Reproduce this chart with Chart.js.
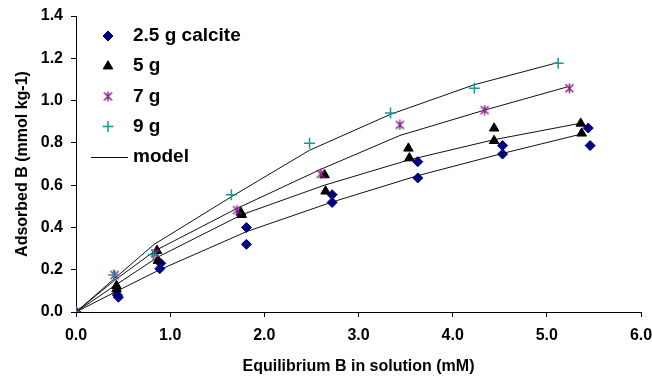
<!DOCTYPE html>
<html>
<head>
<meta charset="utf-8">
<script src="https://cdn.jsdelivr.net/npm/chart.js@4"></script>
<style>
  html, body { margin: 0; padding: 0; background: #fff; }
  #wrap { width: 652px; height: 378px; position: relative; }
</style>
</head>
<body>
<div id="wrap"><canvas id="chart" width="652" height="378"></canvas></div>
<script>
const calcite25X = [0, 0.44, 0.45, 0.89, 0.90, 1.81, 1.81, 2.72, 2.72, 3.63, 3.63, 4.53, 4.53, 5.44, 5.46];
const calcite25Y = [0, 0.08, 0.07, 0.205, 0.23, 0.40, 0.32, 0.555, 0.518, 0.711, 0.634, 0.787, 0.747, 0.870, 0.787];

const calcite5X = [0, 0.43, 0.43, 0.86, 0.87, 1.75, 1.76, 2.64, 2.65, 3.53, 3.54, 4.44, 4.44, 5.36, 5.37];
const calcite5Y = [0, 0.124, 0.108, 0.29, 0.243, 0.471, 0.46, 0.648, 0.571, 0.774, 0.728, 0.869, 0.810, 0.892, 0.845];

const calcite7X = [0, 0.41, 0.84, 1.71, 2.60, 3.44, 4.34, 5.24];
const calcite7Y = [0, 0.175, 0.277, 0.482, 0.653, 0.885, 0.955, 1.058];

const calcite9X = [0, 0.40, 0.82, 1.65, 2.48, 3.34, 4.23, 5.12];
const calcite9Y = [0, 0.175, 0.271, 0.555, 0.798, 0.941, 1.058, 1.176];

// model curves
const model25X = [0, 0.44, 0.89, 1.81, 2.72, 3.63, 4.53, 5.37];
const model25Y = [0, 0.10, 0.20, 0.38, 0.52, 0.645, 0.75, 0.842];
const model5X = [0, 0.43, 0.87, 1.76, 2.64, 3.54, 4.44, 5.36];
const model5Y = [0, 0.13, 0.26, 0.46, 0.60, 0.72, 0.815, 0.893];
const model7X = [0, 0.41, 0.84, 1.71, 2.60, 3.44, 4.34, 5.22];
const model7Y = [0, 0.15, 0.29, 0.49, 0.675, 0.835, 0.955, 1.065];
const model9X = [0, 0.40, 0.83, 1.65, 2.48, 3.34, 4.23, 5.12];
const model9Y = [0, 0.155, 0.32, 0.545, 0.765, 0.935, 1.075, 1.18];

const seriesNames = ['2.5 g calcite', '5 g', '7 g', '9 g'];
const modelName = 'model';

const FONT = "'Liberation Sans', Arial, sans-serif";
const pts = (xs, ys) => xs.map((x, i) => ({ x: x, y: ys[i] }));

// excel-style star: an X with a vertical bar
function starMarker(color) {
  const c = document.createElement('canvas');
  c.width = 11; c.height = 11;
  const g = c.getContext('2d');
  g.strokeStyle = color;
  g.lineWidth = 1.5;
  g.beginPath();
  g.moveTo(1.5, 1.5); g.lineTo(9.5, 9.5);
  g.moveTo(9.5, 1.5); g.lineTo(1.5, 9.5);
  g.moveTo(5.5, 0.5); g.lineTo(5.5, 10.5);
  g.stroke();
  return c;
}

function markerSet(label, xs, ys, style, color, radius, bw) {
  return {
    label: label,
    data: pts(xs, ys),
    showLine: false,
    pointStyle: style,
    pointRadius: radius,
    pointBackgroundColor: color,
    pointBorderColor: color,
    pointBorderWidth: bw,
    borderColor: color,
    backgroundColor: color
  };
}
function modelSet(xs, ys) {
  return {
    label: modelName,
    data: pts(xs, ys),
    showLine: true,
    pointRadius: 0,
    borderColor: '#111',
    borderWidth: 1,
    fill: false
  };
}

const datasets = [
  markerSet(seriesNames[3], calcite9X, calcite9Y, 'cross', '#1a9696', 5.5, 1.5),
  markerSet(seriesNames[2], calcite7X, calcite7Y, starMarker('#8f1f8f'), '#8f1f8f', 5, 1.5),
  markerSet(seriesNames[1], calcite5X, calcite5Y, 'triangle', '#000', 5.5, 1),
  markerSet(seriesNames[0], calcite25X, calcite25Y, 'rectRot', '#000080', 5, 1),
  modelSet(model25X, model25Y),
  modelSet(model5X, model5Y),
  modelSet(model7X, model7Y),
  modelSet(model9X, model9Y)
];

// legend drawn inside the plot, top-left
const insideLegend = {
  id: 'insideLegend',
  afterDraw(chart) {
    const ctx = chart.ctx;
    const rows = [
      { text: seriesNames[0], ds: datasets[3] },
      { text: seriesNames[1], ds: datasets[2] },
      { text: seriesNames[2], ds: datasets[1] },
      { text: seriesNames[3], ds: datasets[0] },
      { text: modelName, ds: null }
    ];
    ctx.save();
    ctx.font = 'bold 19px ' + FONT;
    ctx.textBaseline = 'middle';
    ctx.fillStyle = '#000';
    rows.forEach((r, i) => {
      const y = 36 + i * 30.2;
      if (r.ds) {
        ctx.fillStyle = r.ds.pointBackgroundColor;
        ctx.strokeStyle = r.ds.pointBorderColor;
        ctx.lineWidth = r.ds.pointBorderWidth;
        if (Chart.helpers && Chart.helpers.drawPoint) {
          Chart.helpers.drawPoint(ctx, {
            pointStyle: r.ds.pointStyle,
            radius: r.ds.pointRadius,
            rotation: 0,
            borderWidth: r.ds.pointBorderWidth
          }, 108, y);
        }
      } else {
        ctx.strokeStyle = '#111';
        ctx.lineWidth = 1;
        ctx.beginPath();
        ctx.moveTo(91, Math.round(y) + 0.5);
        ctx.lineTo(128, Math.round(y) + 0.5);
        ctx.stroke();
      }
      ctx.fillStyle = '#000';
      ctx.fillText(r.text, 133, y);
    });
    ctx.restore();
  }
};

const tickFont = { family: FONT, size: 16, weight: 'bold' };

new Chart(document.getElementById('chart').getContext('2d'), {
  type: 'scatter',
  data: { datasets: datasets },
  options: {
    responsive: false,
    animation: false,
    layout: { padding: { top: 16, right: 11, left: 0, bottom: 0 } },
    plugins: { legend: { display: false }, tooltip: { enabled: false } },
    scales: {
      x: {
        type: 'linear',
        min: 0, max: 6,
        afterFit(s) { s.height = 66; s.paddingRight = 0; s.paddingLeft = 0; },
        ticks: { stepSize: 1, color: '#000', font: tickFont, padding: 9,
                 callback: v => Number(v).toFixed(1) },
        grid: { drawOnChartArea: false, drawTicks: true, tickLength: 5, color: '#000' },
        border: { display: true, color: '#000', width: 1 },
        title: { display: true, text: 'Equilibrium B in solution (mM)', color: '#000',
                 font: { family: FONT, size: 16, weight: 'bold' }, padding: 2 }
      },
      y: {
        type: 'linear',
        min: 0, max: 1.4,
        afterFit(s) { s.width = 76; s.paddingTop = 0; s.paddingBottom = 0; },
        ticks: { stepSize: 0.2, color: '#000', font: tickFont, padding: 8,
                 callback: v => Number(v).toFixed(1) },
        grid: { drawOnChartArea: false, drawTicks: true, tickLength: 5, color: '#000' },
        border: { display: true, color: '#000', width: 1 },
        title: { display: true, text: 'Adsorbed B (mmol kg-1)', color: '#000',
                 font: { family: FONT, size: 16, weight: 'bold' }, padding: 13 }
      }
    }
  },
  plugins: [insideLegend]
});
</script>
</body>
</html>
